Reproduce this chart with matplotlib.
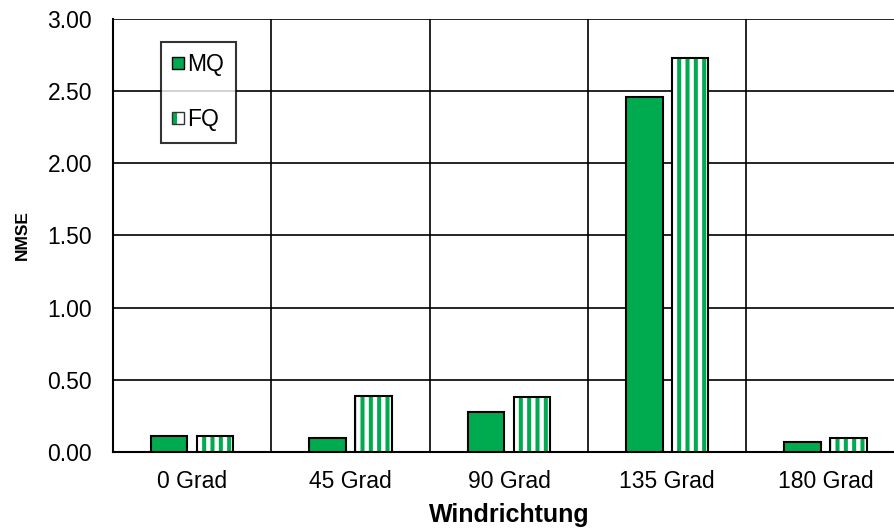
import matplotlib
matplotlib.use("Agg")
import matplotlib.pyplot as plt
import numpy as np
from matplotlib.patches import Patch
from matplotlib.legend_handler import HandlerTuple

plt.rcParams['font.family'] = ['Liberation Sans', 'DejaVu Sans']
plt.rcParams['hatch.linewidth'] = 2.9

categories = ["0 Grad", "45 Grad", "90 Grad", "135 Grad", "180 Grad"]
mq = [0.11, 0.10, 0.28, 2.46, 0.07]
fq = [0.11, 0.39, 0.38, 2.73, 0.10]
yticks = [0.0, 0.5, 1.0, 1.5, 2.0, 2.5, 3.0]

green = "#00AA4F"

fig = plt.figure(figsize=(8.95, 5.32), dpi=100)
ax = fig.add_axes([0.1263, 0.1504, 0.8847, 0.8139])

x = np.arange(len(categories))
w = 0.23
off = 0.145

ax.bar(x - off, mq, w, color=green, edgecolor="black", linewidth=1.5, zorder=3)
ax.bar(x + off, fq, w, color="white", edgecolor=green, hatch="||", linewidth=0, zorder=3)
ax.bar(x + off, fq, w, fill=False, edgecolor="black", linewidth=1.5, zorder=4)

ax.set_xlim(-0.5, len(categories) - 0.5)
ax.set_ylim(0, 3.0)
ax.set_yticks(yticks)
ax.set_yticklabels([f"{v:.2f}" for v in yticks])
ax.set_xticks(x)
ax.set_xticklabels(categories)
ax.tick_params(axis='both', length=0, labelsize=16.5)
ax.tick_params(axis='x', pad=13)
ax.tick_params(axis='y', pad=15)

for yv in yticks[1:]:
    ax.axhline(yv, color="black", linewidth=1.2, zorder=1)
for xv in np.arange(0.5, len(categories) - 0.5, 1):
    ax.axvline(xv, color="black", linewidth=1.2, zorder=1)

for s in ["top", "right"]:
    ax.spines[s].set_visible(False)
ax.spines["left"].set_linewidth(1.5)
ax.spines["bottom"].set_linewidth(1.5)

ax.set_xlabel("Windrichtung", fontsize=18, fontweight="bold", labelpad=7)
ax.set_ylabel("NMSE", fontsize=12.5, fontweight="bold", labelpad=13)

h_mq = Patch(facecolor=green, edgecolor="black", linewidth=1.0)
h_fq = (Patch(facecolor="white", edgecolor=green, hatch="|", linewidth=0),
        Patch(fill=False, edgecolor="#333333", linewidth=1.0))
leg = ax.legend([h_mq, h_fq], ["MQ", "FQ"], loc="upper left",
                bbox_to_anchor=(0.0606, 0.947),
                handler_map={tuple: HandlerTuple(ndivide=1, pad=0)},
                fontsize=16.5, frameon=True, fancybox=False, edgecolor="black",
                handlelength=0.5, handleheight=0.42, handletextpad=0.15,
                labelspacing=1.4, borderpad=0.5, borderaxespad=0)
leg.get_frame().set_linewidth(1.5)
leg.set_zorder(5)

fig.savefig("out.png", dpi=100)
